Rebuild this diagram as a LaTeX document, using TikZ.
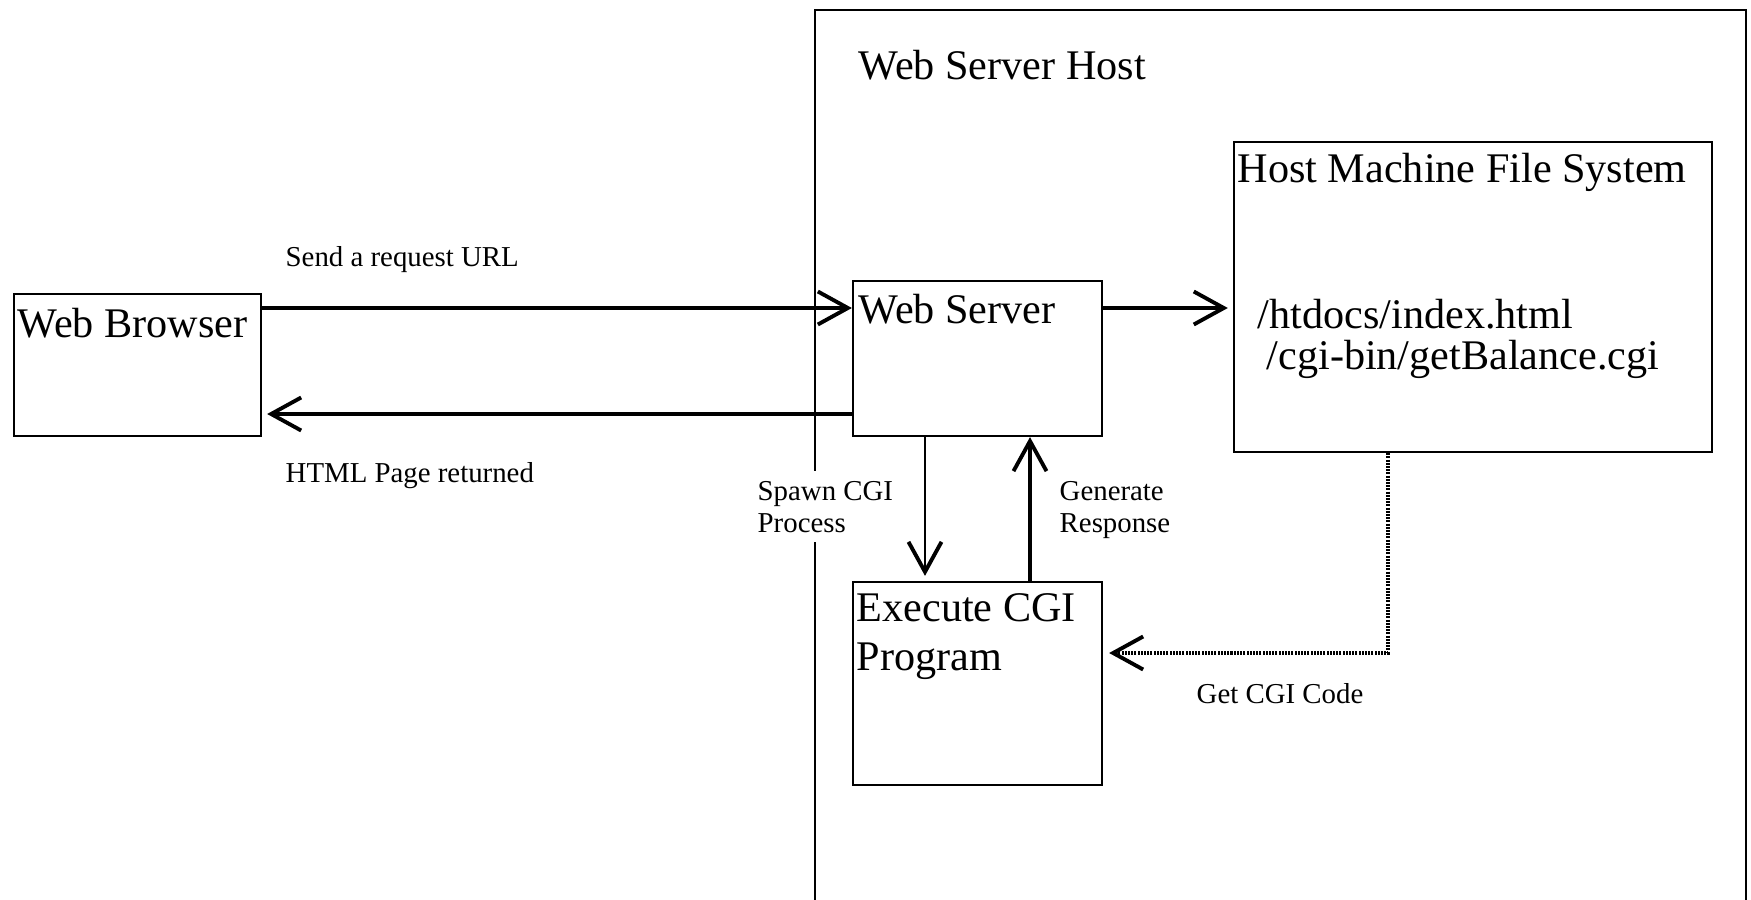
\documentclass[tikz,border=0pt]{standalone}
\usepackage{fontspec}
\setmainfont{Liberation Serif}
\usetikzlibrary{arrows.meta}

\begin{document}
\begin{tikzpicture}[x=0.01cm, y=-0.01cm,
    box/.style={draw, line width=0.6pt, inner sep=0pt},
    big/.style={anchor=base west, inner sep=0pt, font=\fontsize{12}{13.7}\selectfont, align=left},
    small/.style={anchor=base west, inner sep=0pt, font=\fontsize{8.2}{9.1}\selectfont, align=left},
    barb/.tip={Straight Barb[length=0.3cm, width=0.33cm, line width=1.1pt]},
    heavy/.style={line width=1.1pt, -barb},
    light/.style={line width=0.6pt, -barb},
    dots/.style={line width=0.9pt, dash pattern=on 0.02cm off 0.012cm, -barb}]
  \useasboundingbox (0,0) rectangle (1751,900);

  % host frame, open at the bottom
  \draw[line width=0.6pt] (815,905) -- (815,10) -- (1746,10) -- (1746,905);
  \node[big] (hostlbl) at (858,80) {Web Server Host};

  % boxes
  \node[box, minimum width=2.47cm, minimum height=1.42cm] (browser) at (137.5,365) {};
  \node[box, minimum width=2.49cm, minimum height=1.55cm] (server) at (977.5,358.5) {};
  \node[box, minimum width=4.78cm, minimum height=3.10cm] (fs) at (1473,297) {};
  \node[box, minimum width=2.49cm, minimum height=2.03cm] (cgi) at (977.5,683.5) {};

  \node[big] (browserlbl) at (17,337) {Web Browser};
  \node[big] (serverlbl) at (858,323) {Web Server};
  \node[big] (fslbl) at (1237,182) {Host Machine File System};
  \node[big] (htdocs) at (1257,328) {/htdocs/index.html};
  \node[big] (cgibin) at (1266,369) {/cgi-bin/getBalance.cgi};
  \node[big] (cgilbl) at (856,670) {Execute CGI\\Program};

  % where the connectors run
  \coordinate (reqy) at (0,308);
  \coordinate (respy) at (0,414);
  \coordinate (spawnx) at (925,0);
  \coordinate (genx) at (1030,0);
  \coordinate (codec) at (1388,653);

  \draw[heavy] (browser.east |- reqy) -- (server.west |- reqy);
  \draw[heavy, shorten >=0.05cm] (server.west |- respy) -- (browser.east |- respy);
  \draw[heavy, shorten >=0.05cm] (server.east |- reqy) -- (fs.west |- reqy);
  \draw[light, shorten >=0.05cm] (server.south -| spawnx) -- (cgi.north -| spawnx);
  \draw[heavy] (cgi.north -| genx) -- (server.south -| genx);
  \draw[dots, shorten >=0.06cm] (fs.south -| codec) -- (codec) -- (cgi.east |- codec);

  % labels
  \node[small] (reqlbl) at (285,266) {Send a request URL};
  \node[small] (resplbl) at (285,482) {HTML Page returned};
  \node[small, fill=white, inner ysep=0.1cm] (spawnlbl) at (757,532) {Spawn CGI\\Process};
  \node[small] (genlbl) at (1059,532) {Generate\\Response};
  \node[small] (codelbl) at (1196,703) {Get CGI Code};
\end{tikzpicture}
\end{document}
